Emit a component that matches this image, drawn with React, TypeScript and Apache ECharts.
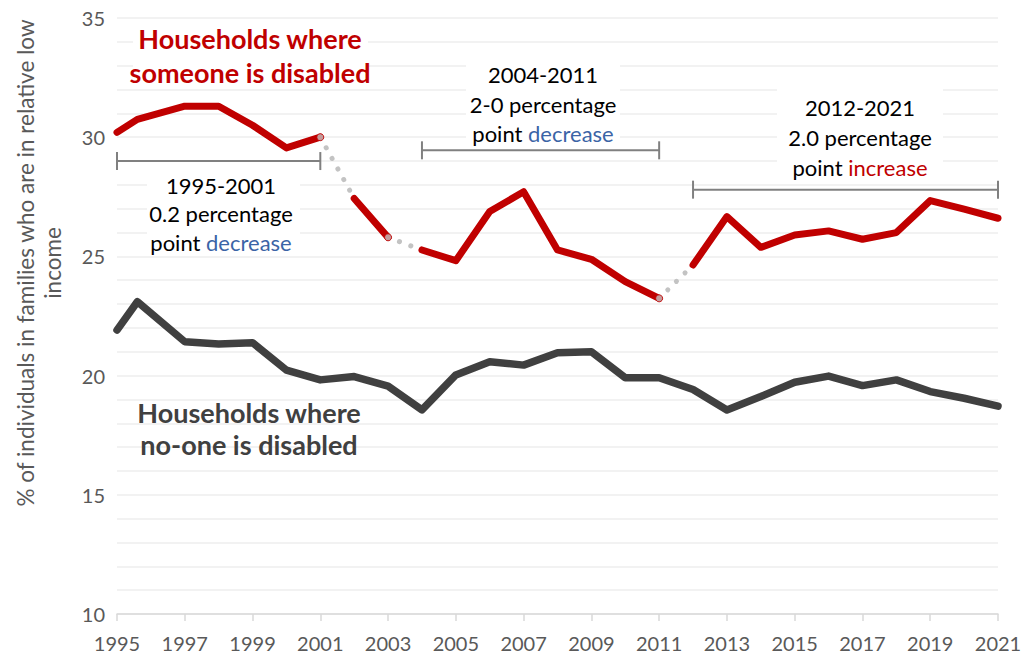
import React, { useEffect, useRef } from 'react';
import * as echarts from 'echarts';

// ---- data ----
const years = [1995, 1995.6, 1997, 1998, 1999, 2000, 2001, 2002, 2003, 2004, 2005, 2006, 2007, 2008, 2009, 2010, 2011, 2012, 2013, 2014, 2015, 2016, 2017, 2018, 2019, 2020, 2021];
const disabled = [30.2, 30.75, 31.3, 31.3, 30.5, 29.55, 30.0, 27.43, 25.8, 25.27, 24.82, 26.88, 27.71, 25.27, 24.88, 23.94, 23.24, 24.64, 26.67, 25.38, 25.9, 26.07, 25.72, 26.0, 27.34, 26.98, 26.6];
const nonDisabled = [21.91, 23.1, 21.42, 21.33, 21.38, 20.23, 19.82, 19.96, 19.56, 18.56, 20.03, 20.58, 20.44, 20.96, 21.0, 19.91, 19.91, 19.42, 18.56, 19.12, 19.72, 19.98, 19.58, 19.82, 19.33, 19.05, 18.72];
// years after which the series has a break (linked with a dotted line)
const breakAfter = [2001, 2003, 2011];

// brackets for the periods
const periodStart = [1995, 2004, 2012];
const periodEnd = [2001, 2011, 2021];
const periodLevel = [29.0, 29.45, 27.8];
const periodLabels = ['1995-2001', '2004-2011', '2012-2021'];
const changeLabels = ['0.2 percentage', '2-0 percentage', '2.0 percentage'];
const directionLabels = ['decrease', 'decrease', 'increase'];

const xMin = 1995;
const xMax = 2021;
const xStep = 2;
const yMin = 10;
const yMax = 35;
const yStep = 1;
const yLabelStep = 5;

const RED = '#c00000';
const DARK = '#404040';
const FONT = 'Lato, "Open Sans", sans-serif';

export default function App() {
  const ref = useRef<HTMLDivElement>(null);

  useEffect(() => {
    if (!ref.current) return;
    const chart = echarts.init(ref.current, undefined, { renderer: 'svg' });

    // red segments
    const segments: number[][][] = [];
    let cur: number[][] = [];
    years.forEach((y, i) => {
      cur.push([y, disabled[i]]);
      if (breakAfter.includes(y)) {
        segments.push(cur);
        cur = [];
      }
    });
    if (cur.length) segments.push(cur);

    const redSeries = segments.map((seg) => ({
      type: 'line',
      data: seg,
      showSymbol: false,
      symbol: 'none',
      lineStyle: { color: RED, width: 7, cap: 'round', join: 'round' },
      z: 4,
    }));

    const linkSeries = breakAfter.map((b) => {
      const i = years.indexOf(b);
      return {
        type: 'line',
        data: [
          [years[i], disabled[i]],
          [years[i + 1], disabled[i + 1]],
        ],
        showSymbol: false,
        symbol: 'none',
        lineStyle: { color: '#c3c3c3', width: 5, type: [0.1, 12], cap: 'round' },
        z: 3,
      };
    });

    const linkMarkers = {
      type: 'scatter',
      data: breakAfter.map((b) => {
        const i = years.indexOf(b);
        return [years[i], disabled[i]];
      }),
      symbol: 'circle',
      symbolSize: 7,
      itemStyle: { color: '#c3c3c3', borderColor: RED, borderWidth: 1 },
      z: 6,
    };

    const bracketSeries = periodStart.map((s, k) => ({
      type: 'line',
      data: [
        [s, periodLevel[k]],
        [periodEnd[k], periodLevel[k]],
      ],
      symbol: 'rect',
      symbolSize: [2, 18],
      showSymbol: true,
      itemStyle: { color: '#808080' },
      lineStyle: { color: '#808080', width: 2 },
      z: 5,
    }));

    const greySeries = {
      type: 'line',
      data: years.map((y, i) => [y, nonDisabled[i]]),
      showSymbol: false,
      symbol: 'none',
      lineStyle: { color: DARK, width: 7.5, cap: 'round', join: 'round' },
      z: 4,
    };

    const annFont = 22;
    const annPos = [
      { x: 221, y: [185, 213, 242], box: [147, 170, 153, 83] },
      { x: 543, y: [74, 104, 133], box: [466, 58, 154, 82] },
      { x: 860, y: [107, 137, 167], box: [777, 86, 166, 94] },
    ];
    const annGraphics: any[] = [];
    periodLabels.forEach((lab, k) => {
      const p = annPos[k];
      const base = { fontFamily: FONT, fontSize: annFont, textAlign: 'center', textVerticalAlign: 'middle' };
      annGraphics.push({
        type: 'rect',
        z: 1,
        shape: { x: p.box[0], y: p.box[1], width: p.box[2], height: p.box[3] },
        style: { fill: '#ffffff' },
      });
      annGraphics.push({ type: 'text', z: 2, x: p.x, y: p.y[0], style: { ...base, text: lab, fill: '#000' } });
      annGraphics.push({ type: 'text', z: 2, x: p.x, y: p.y[1], style: { ...base, text: changeLabels[k], fill: '#000' } });
      annGraphics.push({
        type: 'text',
        z: 2,
        x: p.x,
        y: p.y[2],
        style: {
          ...base,
          text: `{n|point }{c|${directionLabels[k]}}`,
          rich: {
            n: { fill: '#000', fontFamily: FONT, fontSize: annFont },
            c: { fill: directionLabels[k] === 'increase' ? RED : '#3b64a6', fontFamily: FONT, fontSize: annFont },
          },
        },
      });
    });

    const titleFont = 27;
    const titleBase = { fontFamily: FONT, fontSize: titleFont, fontWeight: 'bold', textAlign: 'center', textVerticalAlign: 'middle' };

    chart.setOption({
      animation: false,
      backgroundColor: '#ffffff',
      grid: { left: 117, right: 30, top: 18, bottom: 42, containLabel: false },
      xAxis: {
        type: 'value',
        min: xMin,
        max: xMax,
        interval: xStep,
        axisLine: { show: true, lineStyle: { color: '#d9d9d9', width: 1.5 } },
        axisTick: { show: true, length: 7, lineStyle: { color: '#d9d9d9', width: 1.5 } },
        axisLabel: { color: '#595959', fontSize: 20, fontFamily: FONT, margin: 19, formatter: (v: number) => String(v) },
        splitLine: { show: false },
      },
      yAxis: {
        type: 'value',
        min: yMin,
        max: yMax,
        interval: yStep,
        axisLine: { show: false },
        axisTick: { show: false },
        axisLabel: {
          color: '#595959',
          fontSize: 20,
          fontFamily: FONT,
          margin: 12,
          formatter: (v: number) => (v % yLabelStep === 0 ? String(v) : ''),
        },
        splitLine: { show: true, lineStyle: { color: '#eeeeee', width: 1.5 } },
      },
      series: [greySeries, ...bracketSeries, ...linkSeries, ...redSeries, linkMarkers],
      graphic: [
        { type: 'rect', z: 1, shape: { x: 133, y: 24, width: 235, height: 63 }, style: { fill: '#ffffff' } },
        { type: 'text', z: 2, x: 250, y: 38, style: { ...titleBase, text: 'Households where', fill: RED } },
        { type: 'text', z: 2, x: 250, y: 72, style: { ...titleBase, text: 'someone is disabled', fill: RED } },
        { type: 'text', z: 2, x: 249, y: 412, style: { ...titleBase, text: 'Households where', fill: DARK } },
        { type: 'text', z: 2, x: 249, y: 444, style: { ...titleBase, text: 'no-one is disabled', fill: DARK } },
        {
          type: 'text',
          z: 2,
          x: 25,
          y: 263,
          rotation: Math.PI / 2,
          style: { text: '% of individuals in families who are in relative low', fontFamily: FONT, fontSize: 22.5, fill: '#595959', textAlign: 'center', textVerticalAlign: 'middle' },
        },
        {
          type: 'text',
          z: 2,
          x: 52,
          y: 263,
          rotation: Math.PI / 2,
          style: { text: 'income', fontFamily: FONT, fontSize: 22.5, fill: '#595959', textAlign: 'center', textVerticalAlign: 'middle' },
        },
        ...annGraphics,
      ],
    });

    return () => chart.dispose();
  }, []);

  return (
    <div
      ref={ref}
      style={{ position: 'absolute', left: 0, top: 0, width: 1028, height: 656, background: '#fff' }}
    />
  );
}
